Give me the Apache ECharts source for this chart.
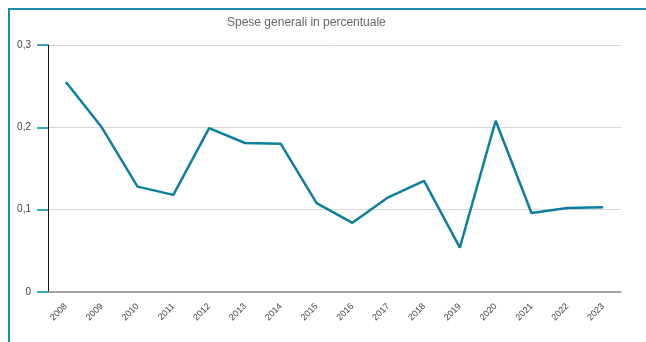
<!DOCTYPE html>
<html>
<head>
<meta charset="utf-8">
<script src="https://cdn.jsdelivr.net/npm/echarts@6/dist/echarts.min.js"></script>
<style>
  html, body { margin: 0; padding: 0; background: #fff; }
  #chart { width: 646px; height: 342px; }
</style>
</head>
<body>
<div id="chart"></div>
<script>
// Anni e spese generali (quota percentuale)
const anni = ['2008','2009','2010','2011','2012','2013','2014','2015','2016','2017','2018','2019','2020','2021','2022','2023'];
const speseGenerali = [0.255, 0.2, 0.128, 0.118, 0.199, 0.181, 0.18, 0.108, 0.084, 0.115, 0.135, 0.054, 0.208, 0.096, 0.102, 0.103];
const titolo = 'Spese generali in percentuale';

const chart = echarts.init(document.getElementById('chart'), null, { renderer: 'canvas' });

chart.setOption({
  animation: false,
  backgroundColor: '#fff',
  title: {
    text: titolo,
    left: 222,
    top: 12,
    textStyle: { fontFamily: 'Liberation Sans, Arial, sans-serif', fontSize: 12, fontWeight: 'normal', color: '#666' }
  },
  graphic: [
    // cornice del riquadro
    { type: 'line', shape: { x1: 9, y1: 9, x2: 646, y2: 9 }, style: { stroke: '#1b8bab', lineWidth: 2 } },
    { type: 'line', shape: { x1: 9, y1: 8, x2: 9, y2: 342 }, style: { stroke: '#1b8bab', lineWidth: 2 } }
  ],
  grid: { left: 48, right: 25, top: 45, bottom: 50 },
  xAxis: {
    type: 'category',
    data: anni,
    boundaryGap: true,
    axisLine: { lineStyle: { color: '#8c8c8c', width: 1.5 } },
    axisTick: { alignWithLabel: true, length: 6, lineStyle: { color: '#444', width: 1 } },
    axisLabel: {
      rotate: 45,
      fontSize: 9,
      color: '#444',
      margin: 13,
      fontFamily: 'Liberation Sans, Arial, sans-serif'
    }
  },
  yAxis: {
    type: 'value',
    min: 0,
    max: 0.3,
    interval: 0.1,
    axisLine: { show: true, onZero: false, lineStyle: { color: '#111', width: 1 } },
    axisTick: { show: true, inside: false, length: 11, lineStyle: { color: '#3aa3c2', width: 2 } },
    axisLabel: {
      fontSize: 10,
      color: '#444',
      margin: 17,
      fontFamily: 'Liberation Sans, Arial, sans-serif',
      formatter: v => String(v).replace('.', ',')
    },
    splitLine: { lineStyle: { color: '#d6d6d6', width: 1 } }
  },
  series: [{
    type: 'line',
    data: speseGenerali,
    showSymbol: false,
    symbol: 'none',
    lineStyle: { color: '#0c7f9e', width: 2.5 },
    itemStyle: { color: '#0c7f9e' }
  }]
});
</script>
</body>
</html>
